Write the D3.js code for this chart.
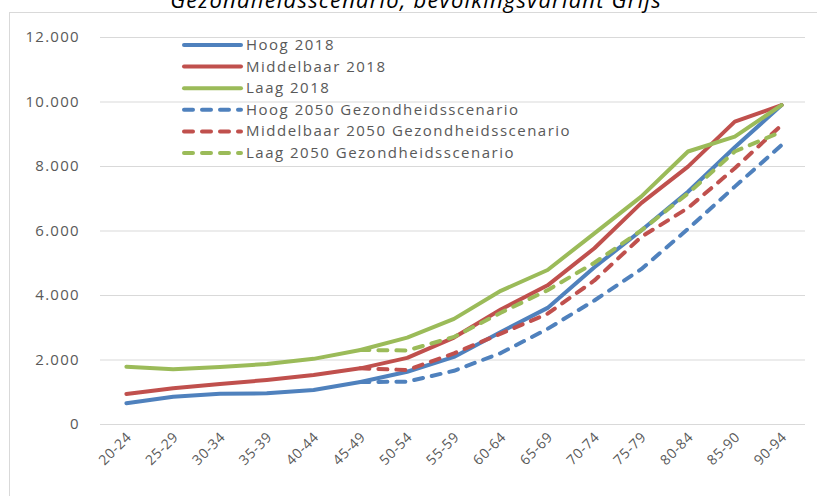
<!DOCTYPE html>
<html><head><meta charset="utf-8">
<script src="https://cdn.jsdelivr.net/npm/d3@7"></script>
<style>body{margin:0;background:#fff;} svg{display:block;font-family:"Open Sans",sans-serif;}</style>
</head><body>
<svg id="c" width="817" height="496"></svg>
<script>
const title = "Gezondheidsscenario, bevolkingsvariant Grijs";
const categories = ["20-24","25-29","30-34","35-39","40-44","45-49","50-54","55-59","60-64","65-69","70-74","75-79","80-84","85-90","90-94"];
const yTicks = [0,2000,4000,6000,8000,10000,12000];
const hoog2018 = [641,848,940,951,1054,1300,1620,2080,2850,3600,4860,6000,7200,8580,9890];
const middel2018 = [930,1107,1240,1364,1519,1726,2050,2680,3550,4300,5450,6850,7980,9375,9890];
const laag2018 = [1777,1700,1767,1860,2020,2295,2680,3260,4130,4775,5912,7050,8450,8910,9890];
const hoog2050 = [null,null,null,null,null,1300,1313,1650,2200,2950,3830,4800,6050,7360,8650];
const middel2050 = [null,null,null,null,null,1726,1674,2190,2800,3420,4450,5800,6700,7930,9270];
const laag2050 = [null,null,null,null,null,2295,2280,2700,3450,4150,5000,6000,7150,8450,9065];
const seriesNames = ["Hoog 2018","Middelbaar 2018","Laag 2018","Hoog 2050 Gezondheidsscenario","Middelbaar 2050 Gezondheidsscenario","Laag 2050 Gezondheidsscenario"];
const seriesData = [hoog2018,middel2018,laag2018,hoog2050,middel2050,laag2050];
const colors = ["#4F81BD","#C0504D","#9BBB59","#4F81BD","#C0504D","#9BBB59"];
const dashed = [false,false,false,true,true,true];

const svg = d3.select("#c");
const fmt = v => d3.format(",")(v).replace(/,/g,".");

// chart frame
svg.append("rect").attr("x",9.5).attr("y",12.5).attr("width",840).attr("height",520)
  .attr("fill","none").attr("stroke","#D9D9D9");

svg.append("text").attr("x",416).attr("y",8).attr("text-anchor","middle")
  .attr("font-style","italic").attr("font-size",22).attr("letter-spacing",1.2).attr("fill","#000").text(title);

const x = d3.scaleBand().domain(categories).range([103,805]);
const y = d3.scaleLinear().domain([0,12000]).range([424,37]);

// gridlines
const yAxis = d3.axisLeft(y).tickValues(yTicks).tickFormat(fmt).tickSize(-(805-100)).tickPadding(20);
const gy = svg.append("g").attr("transform","translate(100,0)").call(yAxis);
gy.select(".domain").remove();
gy.selectAll(".tick line").attr("stroke","#D9D9D9");
gy.selectAll(".tick text").attr("fill","#595959").attr("font-size",15).attr("letter-spacing",1.3)
  .attr("font-family","Open Sans, sans-serif");

// x axis labels
const xAxis = d3.axisBottom(x).tickSize(0).tickPadding(0);
const gx = svg.append("g").attr("transform","translate(0,424)").call(xAxis);
gx.select(".domain").remove();
gx.selectAll(".tick text").attr("fill","#595959").attr("font-size",14).attr("letter-spacing",0.6)
  .attr("font-family","Open Sans, sans-serif")
  .attr("text-anchor","end").attr("dy",0).attr("transform","translate(6,14) rotate(-45)");

const line = d3.line().defined(d => d != null)
  .x((d,i) => x(categories[i]) + x.bandwidth()/2).y(d => y(d));

seriesData.forEach((s,k) => {
  svg.append("path").datum(s).attr("d",line).attr("fill","none")
    .attr("stroke",colors[k]).attr("stroke-width",4)
    .attr("stroke-linecap","round").attr("stroke-linejoin","round")
    .attr("stroke-dasharray", dashed[k] ? "9,9" : null);
});

// legend
const lg = svg.append("g");
seriesNames.forEach((n,k) => {
  const yy = 45 + k*21.6;
  lg.append("line").attr("x1",184).attr("x2",241).attr("y1",yy).attr("y2",yy)
    .attr("stroke",colors[k]).attr("stroke-width",4).attr("stroke-linecap","round")
    .attr("stroke-dasharray", dashed[k] ? "9,9" : null);
  lg.append("text").attr("x",246).attr("y",yy+5).attr("font-size",15).attr("letter-spacing",1.5)
    .attr("fill","#595959").text(n);
});
</script>
</body></html>
